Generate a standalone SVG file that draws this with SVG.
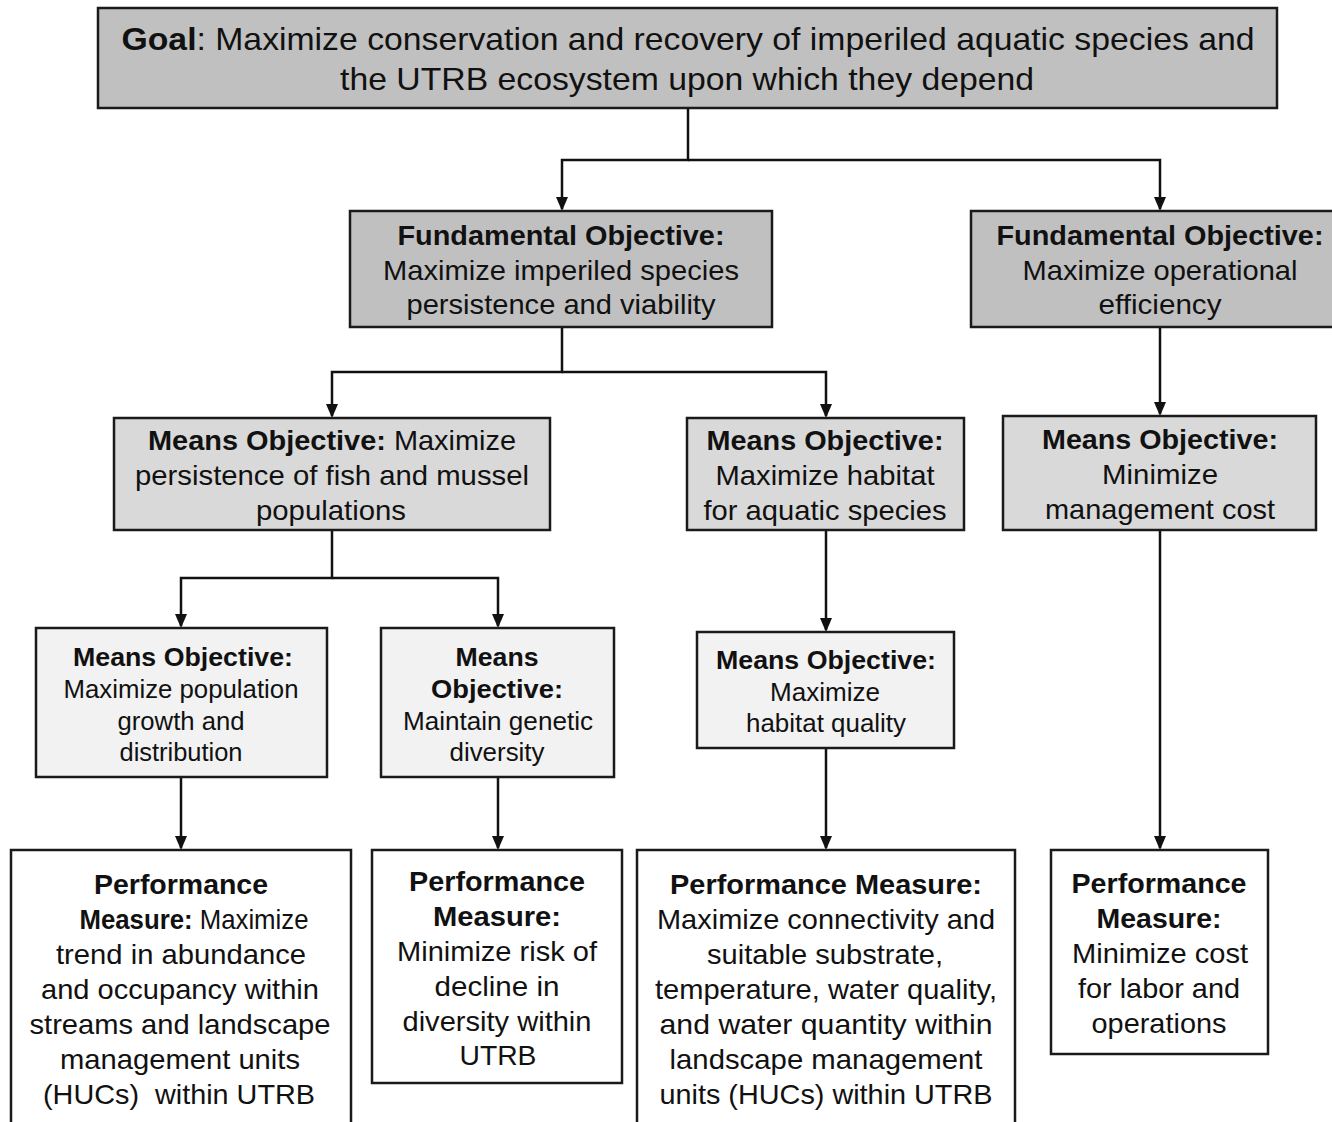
<svg xmlns="http://www.w3.org/2000/svg" width="1332" height="1122" viewBox="0 0 1332 1122">
<defs>
<style>
.box{stroke:#1a1a1a;stroke-width:2.5}
.g1{fill:#c0c0c0}
.g2{fill:#d9d9d9}
.g3{fill:#f2f2f2}
.w{fill:#ffffff}
text{font-family:"Liberation Sans",Arial,sans-serif;fill:#111;text-anchor:middle}
.t30{font-size:32px}
.t26{font-size:28px}
.t24{font-size:26px}
.b{font-weight:bold}
.c{fill:none;stroke:#111;stroke-width:2.5}
</style>
</defs>
<rect width="1332" height="1122" fill="#ffffff"/>

<g id="connectors">
<path class="c" d="M688,108 V160 H562 V209"/>
<path class="c" d="M688,160 H1160 V209"/>
<path class="c" d="M562,327 V372 H332 V416"/>
<path class="c" d="M562,372 H826 V416"/>
<path class="c" d="M1160,327 V414"/>
<path class="c" d="M332,530 V578 H181 V626"/>
<path class="c" d="M332,578 H498 V626"/>
<path class="c" d="M826,530 V630"/>
<path class="c" d="M181,777 V848"/>
<path class="c" d="M498,777 V848"/>
<path class="c" d="M826,748 V848"/>
<path class="c" d="M1160,530 V848"/>
<g fill="#111">
<path d="M556,197 L568,197 L562,211 Z"/>
<path d="M1154,197 L1166,197 L1160,211 Z"/>
<path d="M326,404 L338,404 L332,418 Z"/>
<path d="M820,404 L832,404 L826,418 Z"/>
<path d="M1154,402 L1166,402 L1160,416 Z"/>
<path d="M175,614 L187,614 L181,628 Z"/>
<path d="M492,614 L504,614 L498,628 Z"/>
<path d="M820,618 L832,618 L826,632 Z"/>
<path d="M175,836 L187,836 L181,850 Z"/>
<path d="M492,836 L504,836 L498,850 Z"/>
<path d="M820,836 L832,836 L826,850 Z"/>
<path d="M1154,836 L1166,836 L1160,850 Z"/>
</g>
</g>

<g id="goal">
<rect class="box g1" x="98" y="8" width="1179" height="100"/>
<text class="t30" x="688" y="50" textLength="1133" lengthAdjust="spacingAndGlyphs"><tspan class="b">Goal</tspan>: Maximize conservation and recovery of imperiled aquatic species and</text>
<text class="t30" x="687" y="90" textLength="694" lengthAdjust="spacingAndGlyphs">the UTRB ecosystem upon which they depend</text>
</g>

<g id="fo1">
<rect class="box g1" x="350" y="211" width="422" height="116"/>
<text class="t26 b" x="561" y="245" textLength="327" lengthAdjust="spacingAndGlyphs">Fundamental  Objective:</text>
<text class="t26" x="561" y="280" textLength="356" lengthAdjust="spacingAndGlyphs">Maximize imperiled species</text>
<text class="t26" x="561" y="314" textLength="309" lengthAdjust="spacingAndGlyphs">persistence and viability</text>
</g>

<g id="fo2">
<rect class="box g1" x="971" y="211" width="370" height="116"/>
<text class="t26 b" x="1160" y="245" textLength="327" lengthAdjust="spacingAndGlyphs">Fundamental  Objective:</text>
<text class="t26" x="1160" y="280" textLength="275" lengthAdjust="spacingAndGlyphs">Maximize operational</text>
<text class="t26" x="1160" y="314" textLength="123" lengthAdjust="spacingAndGlyphs">efficiency</text>
</g>

<g id="mo1">
<rect class="box g2" x="114" y="418" width="436" height="112"/>
<text class="t26" x="332" y="450" textLength="368" lengthAdjust="spacingAndGlyphs"><tspan class="b">Means Objective:</tspan> Maximize</text>
<text class="t26" x="332" y="485" textLength="394" lengthAdjust="spacingAndGlyphs">persistence of fish and mussel</text>
<text class="t26" x="331" y="520" textLength="150" lengthAdjust="spacingAndGlyphs">populations</text>
</g>

<g id="mo2">
<rect class="box g2" x="687" y="418" width="277" height="112"/>
<text class="t26 b" x="825" y="450" textLength="237" lengthAdjust="spacingAndGlyphs">Means Objective:</text>
<text class="t26" x="825" y="485" textLength="219" lengthAdjust="spacingAndGlyphs">Maximize habitat</text>
<text class="t26" x="825" y="520" textLength="243" lengthAdjust="spacingAndGlyphs">for aquatic species</text>
</g>

<g id="mo3">
<rect class="box g2" x="1003" y="416" width="313" height="114"/>
<text class="t26 b" x="1160" y="449" textLength="236" lengthAdjust="spacingAndGlyphs">Means Objective:</text>
<text class="t26" x="1160" y="484" textLength="116" lengthAdjust="spacingAndGlyphs">Minimize</text>
<text class="t26" x="1160" y="519" textLength="230" lengthAdjust="spacingAndGlyphs">management cost</text>
</g>

<g id="mo4">
<rect class="box g3" x="36" y="628" width="291" height="149"/>
<text class="t24 b" x="183" y="666" textLength="220" lengthAdjust="spacingAndGlyphs">Means Objective:</text>
<text class="t24" x="181" y="698" textLength="235" lengthAdjust="spacingAndGlyphs">Maximize population</text>
<text class="t24" x="181" y="730" textLength="127" lengthAdjust="spacingAndGlyphs">growth and</text>
<text class="t24" x="181" y="761" textLength="123" lengthAdjust="spacingAndGlyphs">distribution</text>
</g>

<g id="mo5">
<rect class="box g3" x="381" y="628" width="233" height="149"/>
<text class="t24 b" x="497" y="666" textLength="83" lengthAdjust="spacingAndGlyphs">Means</text>
<text class="t24 b" x="497" y="698" textLength="132" lengthAdjust="spacingAndGlyphs">Objective:</text>
<text class="t24" x="498" y="730" textLength="190" lengthAdjust="spacingAndGlyphs">Maintain genetic</text>
<text class="t24" x="497" y="761" textLength="95" lengthAdjust="spacingAndGlyphs">diversity</text>
</g>

<g id="mo6">
<rect class="box g3" x="697" y="632" width="257" height="116"/>
<text class="t24 b" x="826" y="669" textLength="220" lengthAdjust="spacingAndGlyphs">Means Objective:</text>
<text class="t24" x="825" y="701" textLength="110" lengthAdjust="spacingAndGlyphs">Maximize</text>
<text class="t24" x="826" y="732" textLength="160" lengthAdjust="spacingAndGlyphs">habitat quality</text>
</g>

<g id="pm1">
<rect class="box w" x="11" y="850" width="340" height="290"/>
<text class="t26 b" x="181" y="894" textLength="174" lengthAdjust="spacingAndGlyphs">Performance</text>
<text class="t26" x="194" y="929" textLength="229" lengthAdjust="spacingAndGlyphs"><tspan class="b">Measure:</tspan> Maximize</text>
<text class="t26" x="181" y="964" textLength="250" lengthAdjust="spacingAndGlyphs">trend in abundance</text>
<text class="t26" x="180" y="999" textLength="278" lengthAdjust="spacingAndGlyphs">and occupancy within</text>
<text class="t26" x="180" y="1034" textLength="301" lengthAdjust="spacingAndGlyphs">streams and landscape</text>
<text class="t26" x="180" y="1069" textLength="240" lengthAdjust="spacingAndGlyphs">management units</text>
<text class="t26" x="179" y="1104" textLength="272" lengthAdjust="spacingAndGlyphs" xml:space="preserve">(HUCs)  within UTRB</text>
</g>

<g id="pm2">
<rect class="box w" x="372" y="850" width="250" height="233"/>
<text class="t26 b" x="497" y="891" textLength="176" lengthAdjust="spacingAndGlyphs">Performance</text>
<text class="t26 b" x="497" y="926" textLength="128" lengthAdjust="spacingAndGlyphs">Measure:</text>
<text class="t26" x="497" y="961" textLength="200" lengthAdjust="spacingAndGlyphs">Minimize risk of</text>
<text class="t26" x="497" y="996" textLength="125" lengthAdjust="spacingAndGlyphs">decline in</text>
<text class="t26" x="497" y="1031" textLength="189" lengthAdjust="spacingAndGlyphs">diversity within</text>
<text class="t26" x="498" y="1065" textLength="77" lengthAdjust="spacingAndGlyphs">UTRB</text>
</g>

<g id="pm3">
<rect class="box w" x="637" y="850" width="378" height="290"/>
<text class="t26 b" x="826" y="894" textLength="312" lengthAdjust="spacingAndGlyphs">Performance Measure:</text>
<text class="t26" x="826" y="929" textLength="338" lengthAdjust="spacingAndGlyphs">Maximize connectivity and</text>
<text class="t26" x="825" y="964" textLength="236" lengthAdjust="spacingAndGlyphs">suitable substrate,</text>
<text class="t26" x="826" y="999" textLength="342" lengthAdjust="spacingAndGlyphs">temperature, water quality,</text>
<text class="t26" x="826" y="1034" textLength="333" lengthAdjust="spacingAndGlyphs">and water quantity within</text>
<text class="t26" x="826" y="1069" textLength="313" lengthAdjust="spacingAndGlyphs">landscape management</text>
<text class="t26" x="826" y="1104" textLength="333" lengthAdjust="spacingAndGlyphs">units (HUCs) within UTRB</text>
</g>

<g id="pm4">
<rect class="box w" x="1051" y="850" width="217" height="204"/>
<text class="t26 b" x="1159" y="893" textLength="175" lengthAdjust="spacingAndGlyphs">Performance</text>
<text class="t26 b" x="1159" y="928" textLength="125" lengthAdjust="spacingAndGlyphs">Measure:</text>
<text class="t26" x="1160" y="963" textLength="176" lengthAdjust="spacingAndGlyphs">Minimize cost</text>
<text class="t26" x="1159" y="998" textLength="162" lengthAdjust="spacingAndGlyphs">for labor and</text>
<text class="t26" x="1159" y="1033" textLength="135" lengthAdjust="spacingAndGlyphs">operations</text>
</g>
</svg>
